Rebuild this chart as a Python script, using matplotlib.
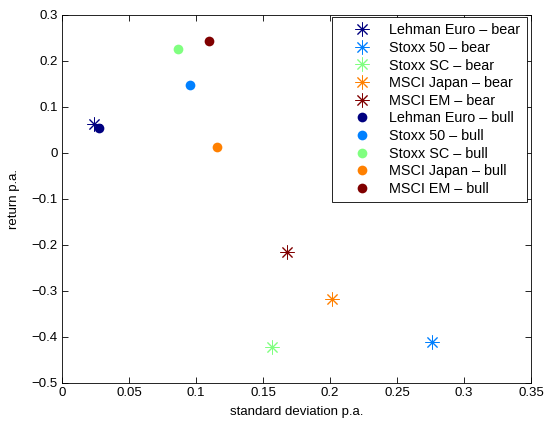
import matplotlib
matplotlib.use("Agg")
from matplotlib import pyplot as plt
from matplotlib.ticker import FuncFormatter
import numpy as np

names = ["Lehman Euro", "Stoxx 50", "Stoxx SC", "MSCI Japan", "MSCI EM"]
colours = ["#000080", "#0080ff", "#80ff80", "#ff8000", "#800000"]

# risk / return in the bear phase
bear_std = [0.024, 0.276, 0.157, 0.2015, 0.168]
bear_ret = [0.063, -0.411, -0.421, -0.317, -0.216]

# risk / return in the bull phase
bull_std = [0.0275, 0.0955, 0.0866, 0.1157, 0.1097]
bull_ret = [0.054, 0.148, 0.226, 0.012, 0.244]

plt.rcParams['font.family'] = ['Liberation Sans', 'DejaVu Sans']
plt.rcParams['font.size'] = 9.5

fig = plt.figure(figsize=(5.46, 4.23), dpi=100)
ax = fig.add_axes([0.1136, 0.0946, 0.859, 0.870])

for i in range(len(names)):
    ax.plot(bear_std[i], bear_ret[i], linestyle='none', marker=(8, 2, 0),
            markersize=10, markeredgewidth=0.7, color=colours[i],
            label=names[i] + " \u2013 bear")
for i in range(len(names)):
    ax.plot(bull_std[i], bull_ret[i], linestyle='none', marker='o',
            markersize=7, markeredgewidth=0, color=colours[i],
            label=names[i] + " \u2013 bull")

ax.set_xlim(0, 0.35)
ax.set_ylim(-0.5, 0.3)
ax.set_xticks(np.arange(0, 0.351, 0.05))
ax.set_yticks(np.arange(-0.5, 0.31, 0.1))

def fmt(v, pos):
    s = ("%.2f" % v).rstrip('0').rstrip('.')
    if s in ("-0", ""):
        s = "0"
    return s.replace('-', '\u2212')

ax.xaxis.set_major_formatter(FuncFormatter(fmt))
ax.yaxis.set_major_formatter(FuncFormatter(fmt))
ax.tick_params(direction='in', top=True, right=True, length=4, width=0.6,
               labelsize=9.5, pad=3)
for sp in ax.spines.values():
    sp.set_linewidth(0.6)

ax.set_xlabel("standard deviation p.a.", fontsize=9.5, labelpad=5)
ax.set_ylabel("return p.a.", fontsize=9.5, labelpad=8)

leg = ax.legend(loc='upper right', fancybox=False, edgecolor='black',
                framealpha=1, fontsize=10.4, handlelength=3.3, handletextpad=0.25,
                borderpad=0.45, labelspacing=0.25, numpoints=1,
                borderaxespad=0, bbox_to_anchor=(0.9915, 0.995))
leg.get_frame().set_linewidth(0.6)

fig.savefig("out.png", dpi=100)
